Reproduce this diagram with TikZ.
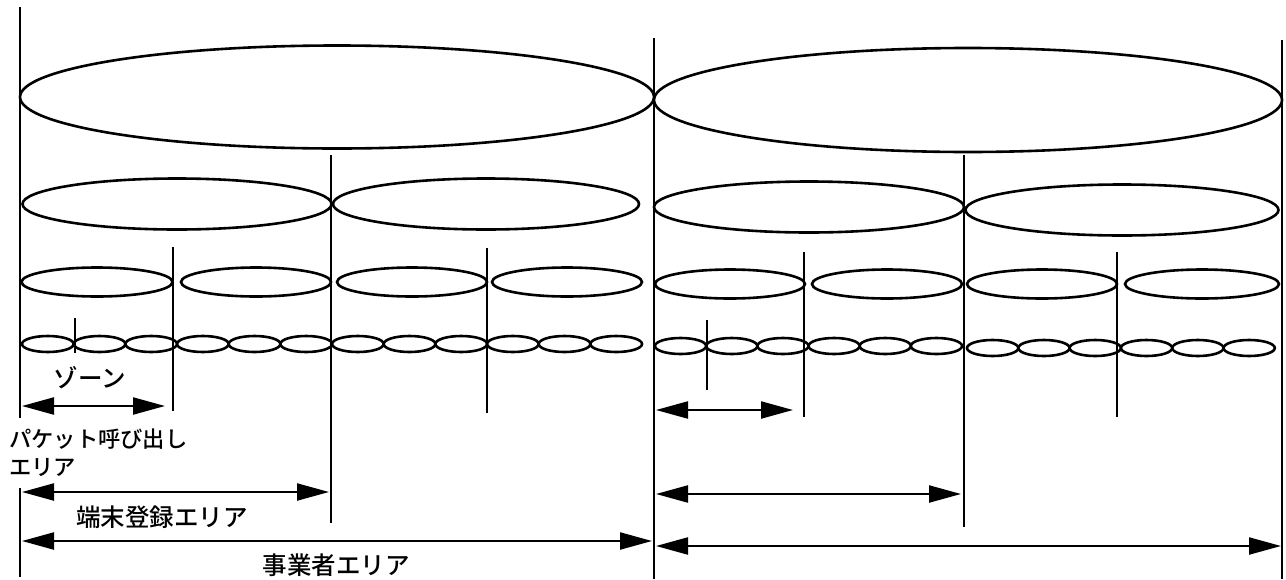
\documentclass[tikz,border=0pt]{standalone}
\usepackage{fontspec}
\newfontfamily\jpfont{Noto Sans CJK JP}[UprightFont=* Medium]
\usetikzlibrary{arrows.meta, positioning, shapes.geometric}

\begin{document}
\begin{tikzpicture}[x=1pt, y=-1pt,
  cell/.style={draw, ellipse, line width=2.6pt, inner sep=0pt},
  bound/.style={line width=2.2pt},
  arr/.style={{Triangle[length=32pt,width=17pt]}-{Triangle[length=32pt,width=17pt]}, line width=2.2pt},
  lbl/.style={font=\jpfont\fontsize{24.5}{29}\selectfont, inner sep=0pt, align=left},
  smalllbl/.style={lbl, font=\jpfont\fontsize{22.3}{27}\selectfont}
]
  \useasboundingbox (0,0) rectangle (1286,579);

  % area boundaries
  \draw[bound] (20,7) -- (20,418);
  \draw[bound] (20,488) -- (20,577);
  \draw[bound] (654,38) -- (654,579);
  \draw[bound] (1282,40) -- (1282,579);
  \draw[bound] (331,155) -- (331,523);
  \draw[bound] (964,155) -- (964,527);
  \draw[bound] (173,247) -- (173,411);
  \draw[bound] (487,248) -- (487,413);
  \draw[bound] (804,252) -- (804,417);
  \draw[bound] (1117,252) -- (1117,417);
  \draw[bound] (75,318) -- (75,353);
  \draw[bound] (707,320) -- (707,390);

  % operator areas
  \node[cell, minimum width=634pt, minimum height=103pt] (op1) at (337,97) {};
  \node[cell, minimum width=628pt, minimum height=104pt] (op2) at (968,100) {};

  % registration areas
  \node[cell, minimum width=309pt, minimum height=51pt] (reg1) at (177,204) {};
  \node[cell, minimum width=306pt, minimum height=51pt] (reg2) at (486,204) {};
  \node[cell, minimum width=310pt, minimum height=51pt] (reg3) at (809,207) {};
  \node[cell, minimum width=313pt, minimum height=51pt] (reg4) at (1122,210) {};

  % paging areas
  \node[cell, minimum width=151pt, minimum height=29pt] (pg1) at (97,282) {};
  \node[cell, minimum width=150pt, minimum height=29pt] (pg2) at (256,282) {};
  \node[cell, minimum width=150pt, minimum height=29pt] (pg3) at (412,282) {};
  \node[cell, minimum width=150pt, minimum height=29pt] (pg4) at (567,282) {};
  \node[cell, minimum width=150pt, minimum height=29pt] (pg5) at (730,284) {};
  \node[cell, minimum width=150pt, minimum height=29pt] (pg6) at (887,284) {};
  \node[cell, minimum width=150pt, minimum height=29pt] (pg7) at (1042,284) {};
  \node[cell, minimum width=154pt, minimum height=29pt] (pg8) at (1202,284) {};

  % zones
  \foreach \i in {0,...,11}
    \node[cell, minimum width=51.7pt, minimum height=16pt] (zl\i) at ({22+51.67*(\i+0.5)},344) {};
  \foreach \i in {0,...,5}
    \node[cell, minimum width=51.2pt, minimum height=16pt] (zr\i) at ({655+51.17*(\i+0.5)},346) {};
  \foreach \i in {0,...,5}
    \node[cell, minimum width=51.3pt, minimum height=16pt] (zs\i) at ({967+51.3*(\i+0.5)},348) {};

  % arrow ends
  \coordinate (zoneA) at (22,406);
  \coordinate (zoneB) at (165,406);
  \coordinate (regA) at (22,492);
  \coordinate (regB) at (329,492);
  \coordinate (opA) at (22,541);
  \coordinate (opB) at (652,541);
  \coordinate (zoneC) at (656,410);
  \coordinate (zoneD) at (793,410);
  \coordinate (regC) at (656,494);
  \coordinate (regD) at (961,494);
  \coordinate (opC) at (656,546);
  \coordinate (opD) at (1281,546);

  \draw[arr] (zoneA) -- (zoneB);
  \draw[arr] (regA) -- (regB);
  \draw[arr] (opA) -- (opB);
  \draw[arr] (zoneC) -- (zoneD);
  \draw[arr] (regC) -- (regD);
  \draw[arr] (opC) -- (opD);

  % labels
  \node[lbl] (zonelbl) at (90,378) {ゾーン};
  \node[smalllbl, anchor=west] (pglbl) at (9,439) {パケット呼び出し};
  \node[smalllbl, anchor=west] (pglbl2) at (9,467) {エリア};
  \node[lbl] (reglbl) at (162,517) {端末登録エリア};
  \node[lbl] (oplbl) at (336,565) {事業者エリア};
\end{tikzpicture}
\end{document}
